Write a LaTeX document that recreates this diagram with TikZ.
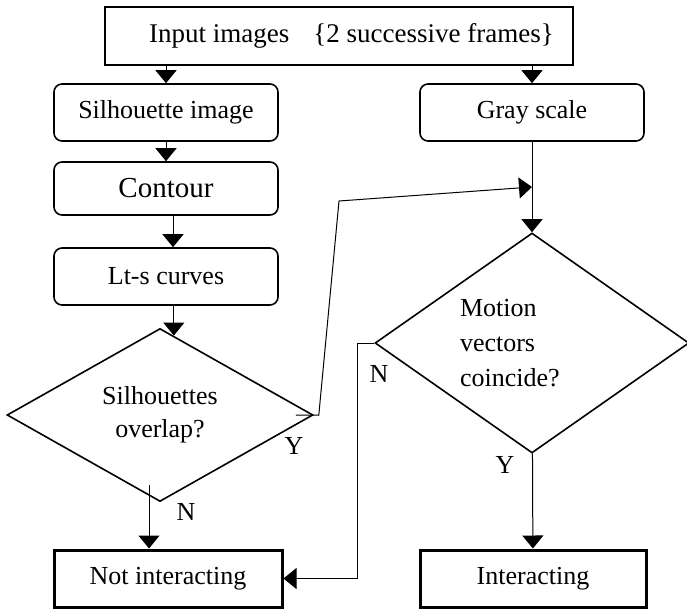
\documentclass[tikz,border=0pt]{standalone}
\usepackage{fontspec}
\setmainfont{Liberation Serif}
\usetikzlibrary{positioning,arrows.meta,shapes.geometric,calc}
\tikzset{
  caja/.style={rectangle, draw, line width=1.8pt, inner sep=0pt,
    font=\fontsize{26}{30}\selectfont},
  cajar/.style={rectangle, rounded corners=8pt, draw, line width=1.6pt,
    minimum width=224pt, minimum height=57pt, inner sep=0pt,
    font=\fontsize{26}{30}\selectfont},
  cajag/.style={rectangle, draw, line width=3pt, minimum height=57pt,
    inner sep=0pt, font=\fontsize{26}{30}\selectfont},
  rombo/.style={diamond, draw, line width=1.6pt, inner sep=0pt,
    font=\fontsize{26}{33}\selectfont},
  flecha/.style={-{Triangle[length=13pt,width=21pt]}, line width=1pt},
  etq/.style={font=\fontsize{26}{30}\selectfont, inner sep=0pt},
}
\begin{document}
\begin{tikzpicture}[x=1pt, y=-1pt]
  \useasboundingbox (0,0) rectangle (687,608);
  \node[caja, minimum width=468pt, minimum height=58pt, font=\fontsize{27}{30}\selectfont] (inimg) at (339,36)
    {\hspace*{25pt}Input images\hspace{24pt}\{2 successive frames\}};
  \node[cajar] (silimg) at (166,112.5) {Silhouette image};
  \node[cajar] (gris) at (532,112.5) {Gray scale};
  \node[cajar, minimum height=53pt, font=\fontsize{29}{34}\selectfont] (cont) at (166,188.5) {Contour};
  \node[cajar] (lts) at (166,276.5) {Lt-s curves};
  \node[rombo, aspect=1.77, minimum width=306pt, minimum height=173pt, align=center] (sil) at (160,415)
    {Silhouettes\\overlap?};
  \node[rombo, aspect=1.42, minimum width=314pt, minimum height=220pt, text width=144pt, align=left,
    font=\fontsize{26}{35}\selectfont] (mot) at (532,343) {Motion\\vectors\\coincide?};
  \node[cajag, minimum width=228pt] (noint) at (168,578.5) {Not interacting};
  \node[cajag, minimum width=226pt] (inter) at (533,578.5) {Interacting};
  % etiquetas Y / N
  \node[etq] (ysil) at (294,446) {Y};
  \node[etq] (nsil) at (186,512) {N};
  \node[etq] (nmot) at (379,374) {N};
  \node[etq] (ymot) at (505,465) {Y};
  \coordinate (silin) at ($(sil.north)!0.09!(sil.east)$);
  \coordinate (yjunta) at ($(gris.south)!0.5!(mot.north)$);
  \coordinate (ycodo) at (339,201);
  \draw[flecha] (silimg.north |- inimg.south) -- (silimg.north);
  \draw[flecha] (gris.north |- inimg.south) -- (gris.north);
  \draw[flecha] (silimg) -- (cont);
  \draw[flecha] ([xshift=7pt]cont.south) -- ([xshift=7pt]lts.north);
  \draw[flecha] (lts.south -| silin) -- (silin);
  \draw[flecha] (gris) -- (mot);
  \draw[flecha] ([xshift=-18pt]sil.east) -- ++(23,0) -- (ycodo) -- (yjunta);
  \draw[flecha] ([xshift=-11pt,yshift=17pt]sil.south) coordinate (nini) -- (nini |- noint.north);
  \draw[flecha] (mot.west) -- ++(-17,0) |- (noint.east);
  \draw[flecha] (mot) -- (inter);
\end{tikzpicture}
\end{document}
